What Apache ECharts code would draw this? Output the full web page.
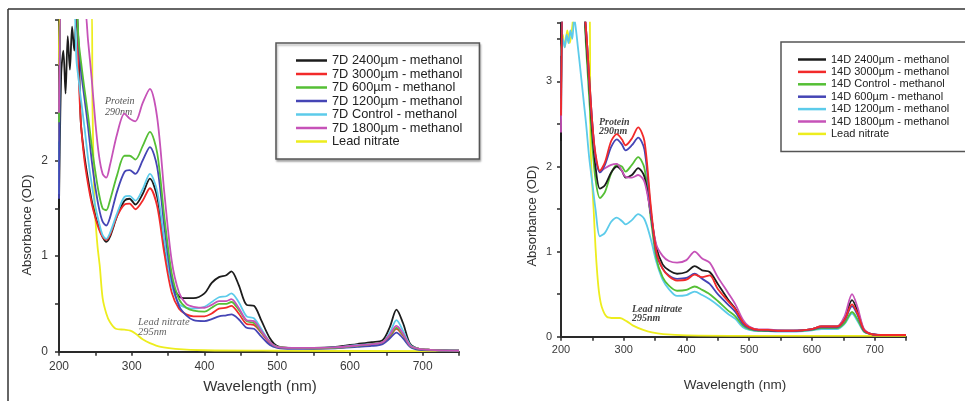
<!DOCTYPE html>
<html>
<head>
<meta charset="utf-8">
<script src="https://cdn.jsdelivr.net/npm/echarts@6/dist/echarts.min.js"></script>
<style>
html,body{margin:0;padding:0;background:#fff;}
#c{width:965px;height:401px;}
</style>
</head>
<body>
<div id="c"></div>
<script>
// ---------- LEFT PANEL (7D) ----------
const LW = [200,203,206,209,212,215,218,221,224,227,230,235,240,245,250,255,260,265,270,280,290,297,305,315,325,335,345,355,365,375,385,400,410,420,430,437,447,458,468,478,490,500,520,550,580,610,630,645,655,664,673,683,695,710,750];
const L_2400 = [1.5,2.9,3.15,2.7,3.3,2.95,3.4,3.15,3.5,3.2,2.4,2.05,1.8,1.58,1.42,1.3,1.2,1.15,1.2,1.42,1.58,1.6,1.54,1.65,1.81,1.62,1.1,0.72,0.58,0.56,0.56,0.61,0.72,0.78,0.8,0.84,0.7,0.49,0.48,0.33,0.14,0.06,0.04,0.04,0.05,0.08,0.1,0.12,0.26,0.44,0.3,0.08,0.03,0.02,0.01];
const L_3000 = [2.2,3.6,3.6,3.6,3.6,3.6,3.6,3.6,3.6,2.9,2.4,2.0,1.75,1.55,1.4,1.28,1.2,1.17,1.22,1.42,1.54,1.55,1.49,1.58,1.71,1.52,1.02,0.62,0.45,0.39,0.37,0.37,0.4,0.45,0.46,0.48,0.4,0.29,0.28,0.2,0.09,0.05,0.04,0.035,0.04,0.06,0.07,0.09,0.16,0.24,0.17,0.06,0.03,0.02,0.01];
const L_600 = [2.4,3.6,3.6,3.6,3.6,3.6,3.6,3.6,3.6,3.25,3.05,2.75,2.47,2.15,1.88,1.65,1.5,1.48,1.58,1.85,2.05,2.05,2.01,2.15,2.3,2.08,1.4,0.82,0.55,0.46,0.43,0.42,0.46,0.5,0.5,0.52,0.44,0.32,0.3,0.21,0.1,0.05,0.04,0.035,0.04,0.06,0.08,0.1,0.17,0.25,0.18,0.06,0.03,0.02,0.01];
const L_1200 = [1.6,3.6,3.6,3.6,3.6,3.6,3.6,3.6,3.6,3.2,2.95,2.65,2.35,2.0,1.72,1.5,1.36,1.32,1.4,1.68,1.88,1.9,1.86,2.0,2.14,1.93,1.3,0.75,0.48,0.38,0.33,0.32,0.34,0.37,0.38,0.39,0.34,0.25,0.24,0.16,0.07,0.04,0.03,0.03,0.035,0.05,0.06,0.08,0.14,0.2,0.14,0.05,0.02,0.015,0.01];
const L_CTRL = [1.65,3.6,3.6,3.6,3.6,3.6,3.6,3.6,3.05,2.85,2.65,2.35,2.02,1.75,1.52,1.35,1.22,1.18,1.24,1.45,1.62,1.63,1.58,1.7,1.86,1.68,1.15,0.7,0.5,0.46,0.45,0.47,0.52,0.57,0.58,0.61,0.52,0.37,0.35,0.24,0.1,0.05,0.04,0.04,0.045,0.07,0.08,0.1,0.2,0.33,0.22,0.07,0.03,0.02,0.01];
const L_1800 = [2.5,3.6,3.6,3.6,3.6,3.6,3.6,3.6,3.6,3.6,3.6,3.6,3.25,2.85,2.4,2.05,1.86,1.82,1.95,2.28,2.49,2.44,2.41,2.6,2.75,2.45,1.65,0.95,0.62,0.5,0.47,0.46,0.49,0.53,0.53,0.55,0.46,0.33,0.32,0.22,0.1,0.05,0.04,0.04,0.045,0.065,0.08,0.1,0.18,0.27,0.19,0.06,0.03,0.02,0.01];
const L_LEAD_W = [200,202,240,245,246,248,250,253,256,260,265,270,278,290,298,305,315,325,340,360,400,500,750];
const L_LEAD = [3.0,3.6,3.6,3.6,2.6,1.8,1.4,1.1,0.9,0.56,0.4,0.31,0.24,0.23,0.22,0.19,0.13,0.09,0.05,0.03,0.015,0.01,0.005];
const L_NAMES = ['7D 2400µm - methanol','7D 3000µm - methanol','7D 600µm - methanol','7D 1200µm - methanol','7D Control - methanol','7D 1800µm - methanol','Lead nitrate'];

// ---------- RIGHT PANEL (14D) ----------
const RW = [200,203,206,209,212,215,218,221,224,227,230,235,240,245,250,255,262,270,280,289,297,303,313,323,333,343,352,362,372,385,400,413,425,437,450,466,478,490,500,515,530,545,570,600,615,640,652,664,673,683,695,710,750];
const R_2400 = [2.3,3.9,3.9,3.9,3.9,3.9,3.9,3.9,3.9,3.9,3.9,3.9,3.5,2.95,2.4,2.0,1.74,1.78,1.93,2.0,1.95,1.87,1.9,1.98,1.88,1.45,1.05,0.85,0.78,0.74,0.76,0.83,0.78,0.76,0.62,0.44,0.33,0.17,0.11,0.08,0.075,0.07,0.07,0.09,0.12,0.12,0.22,0.43,0.3,0.08,0.03,0.02,0.02];
const R_3000 = [2.6,3.9,3.9,3.9,3.9,3.9,3.9,3.9,3.9,3.9,3.9,3.9,3.6,3.05,2.5,2.15,1.95,2.05,2.3,2.38,2.32,2.25,2.33,2.46,2.3,1.55,1.0,0.8,0.71,0.66,0.67,0.73,0.7,0.72,0.56,0.42,0.32,0.17,0.11,0.08,0.08,0.07,0.07,0.09,0.12,0.12,0.2,0.38,0.27,0.08,0.03,0.02,0.02];
const R_CTRL = [2.7,3.9,3.9,3.9,3.9,3.9,3.9,3.9,3.9,3.9,3.9,3.9,3.4,2.8,2.25,1.85,1.63,1.7,1.92,2.02,2.0,1.94,2.02,2.11,1.98,1.4,0.92,0.7,0.6,0.54,0.55,0.59,0.55,0.5,0.42,0.31,0.24,0.13,0.09,0.07,0.07,0.065,0.065,0.08,0.1,0.1,0.16,0.29,0.2,0.06,0.03,0.02,0.02];
const R_600 = [2.8,3.9,3.9,3.9,3.9,3.9,3.9,3.9,3.9,3.9,3.9,3.9,3.6,3.05,2.5,2.12,1.93,2.02,2.23,2.32,2.26,2.19,2.25,2.34,2.2,1.5,0.98,0.8,0.72,0.68,0.69,0.74,0.68,0.62,0.5,0.38,0.29,0.15,0.1,0.075,0.075,0.07,0.07,0.085,0.11,0.11,0.19,0.36,0.25,0.07,0.03,0.02,0.02];
const R_1200 = [3.3,3.5,3.4,3.55,3.45,3.6,3.5,3.75,3.6,3.4,3.2,2.85,2.5,2.1,1.8,1.5,1.18,1.22,1.35,1.4,1.36,1.32,1.37,1.44,1.38,1.15,0.88,0.67,0.56,0.48,0.49,0.53,0.49,0.44,0.37,0.27,0.21,0.11,0.08,0.065,0.065,0.06,0.06,0.075,0.09,0.09,0.15,0.27,0.18,0.06,0.03,0.02,0.02];
const R_1800 = [2.4,3.9,3.9,3.9,3.9,3.9,3.9,3.9,3.9,3.9,3.9,3.9,3.6,3.0,2.5,2.12,1.94,1.98,2.02,2.03,1.95,1.88,1.87,1.9,1.82,1.45,1.08,0.95,0.89,0.87,0.9,1.0,0.92,0.87,0.7,0.52,0.38,0.2,0.12,0.085,0.085,0.075,0.07,0.09,0.12,0.12,0.24,0.5,0.34,0.09,0.03,0.02,0.02];
const R_LEAD_W = [200,203,206,210,214,218,222,226,240,245,247,249,252,255,258,261,265,273,285,294,305,315,331,345,363,400,500,750];
const R_LEAD = [3.3,3.55,3.4,3.6,3.45,3.65,3.9,3.9,3.9,3.9,2.3,1.9,1.5,1.05,0.72,0.5,0.35,0.235,0.22,0.22,0.18,0.13,0.08,0.05,0.03,0.015,0.01,0.01];
const R_NAMES = ['14D 2400µm - methanol','14D 3000µm - methanol','14D Control - methanol','14D 600µm - methanol','14D 1200µm - methanol','14D 1800µm - methanol','Lead nitrate '];

const X_TICKS = [200,300,400,500,600,700];

const COLORS = {black:'#1c1c1c', red:'#f22a2a', green:'#55bf35', blue:'#4545b5', cyan:'#5ccbea', magenta:'#c652b8', yellow:'#eded1e'};

function pairs(w, v){ return w.map((x,i)=>[x, v[i]]); }

function mk(name, w, v, color, idx){
  return {
    name: name, type:'line', xAxisIndex: idx, yAxisIndex: idx,
    data: pairs(w, v), symbol:'none', smooth:0.3,
    lineStyle:{color: color, width:1.8}, itemStyle:{color: color},
    clip:true, animation:false
  };
}

const leftSeries = [
  mk(L_NAMES[6], L_LEAD_W, L_LEAD, COLORS.yellow, 0),
  mk(L_NAMES[0], LW, L_2400, COLORS.black, 0),
  mk(L_NAMES[1], LW, L_3000, COLORS.red, 0),
  mk(L_NAMES[4], LW, L_CTRL, COLORS.cyan, 0),
  mk(L_NAMES[3], LW, L_1200, COLORS.blue, 0),
  mk(L_NAMES[2], LW, L_600, COLORS.green, 0),
  mk(L_NAMES[5], LW, L_1800, COLORS.magenta, 0)
];
const rightSeries = [
  mk(R_NAMES[6], R_LEAD_W, R_LEAD, COLORS.yellow, 1),
  mk(R_NAMES[4], RW, R_1200, COLORS.cyan, 1),
  mk(R_NAMES[2], RW, R_CTRL, COLORS.green, 1),
  mk(R_NAMES[0], RW, R_2400, COLORS.black, 1),
  mk(R_NAMES[5], RW, R_1800, COLORS.magenta, 1),
  mk(R_NAMES[3], RW, R_600, COLORS.blue, 1),
  mk(R_NAMES[1], RW, R_3000, COLORS.red, 1)
];

function xAxis(idx, fs, margin){
  return {
    type:'value', gridIndex: idx, min:200, max:750, interval:50,
    axisLine:{show:true, onZero:false, lineStyle:{color:'#2a2a2a', width:2}},
    axisTick:{show:true, inside:false, length:4, lineStyle:{color:'#2a2a2a', width:1.5}},
    axisLabel:{fontSize:fs, color:'#3a3a3a', margin:margin, fontFamily:'Liberation Sans, Arial, sans-serif',
      formatter: v => X_TICKS.indexOf(v) >= 0 ? String(v) : ''},
    splitLine:{show:false}
  };
}
function yAxis(idx, max, maxLabel, fs, margin){
  return {
    type:'value', gridIndex: idx, min:0, max:max, interval:0.5,
    axisLine:{show:true, onZero:false, lineStyle:{color:'#2a2a2a', width:2}},
    axisTick:{show:true, inside:false, length:4, lineStyle:{color:'#2a2a2a', width:1.5}},
    axisLabel:{fontSize:fs, color:'#3a3a3a', margin:margin, fontFamily:'Liberation Sans, Arial, sans-serif',
      formatter: v => (Math.abs(v - Math.round(v)) < 1e-9 && v <= maxLabel) ? String(Math.round(v)) : ''},
    splitLine:{show:false}
  };
}

const serif = '"Liberation Serif", "DejaVu Serif", serif';
const sans = '"Liberation Sans", Arial, sans-serif';

const option = {
  backgroundColor:'#fff',
  animation:false,
  grid:[
    {left:59, top:20, width:400, height:331.7},
    {left:561, top:22.7, width:345, height:314}
  ],
  xAxis:[xAxis(0, 12, 9), xAxis(1, 11, 8)],
  yAxis:[yAxis(0, 3.47, 2, 12, 11), yAxis(1, 3.69, 3, 11, 9)],
  legend:[
    {
      data: L_NAMES, orient:'vertical', left:276, top:43,
      icon:'rect', itemWidth:31, itemHeight:2.5, itemGap:0.5,
      padding:[11,17,11,20],
      backgroundColor:'#fff', borderColor:'#555', borderWidth:1.5,
      shadowColor:'rgba(0,0,0,0.3)', shadowBlur:2, shadowOffsetX:1, shadowOffsetY:2,
      textStyle:{fontSize:12.8, lineHeight:12.5, color:'#222', fontFamily:sans},
      selectedMode:false
    },
    {
      data: R_NAMES, orient:'vertical', left:781, top:42,
      icon:'rect', itemWidth:28, itemHeight:2.5, itemGap:1.4,
      padding:[12,40,12,17],
      backgroundColor:'#fff', borderColor:'#555', borderWidth:1.5,
      formatter: n => n.trim(),
      textStyle:{fontSize:11, lineHeight:11, color:'#222', fontFamily:sans},
      selectedMode:false
    }
  ],
  graphic:[
    {type:'line', shape:{x1:8, y1:9, x2:965, y2:9}, style:{stroke:'#333', lineWidth:1.5}, silent:true},
    {type:'line', shape:{x1:8, y1:9, x2:8, y2:401}, style:{stroke:'#333', lineWidth:1.5}, silent:true},
    {type:'text', x:27, y:225, rotation:Math.PI/2, style:{text:'Absorbance (OD)', font:'13px '+sans, fill:'#333', align:'center', verticalAlign:'middle'}},
    {type:'text', x:532, y:216, rotation:Math.PI/2, style:{text:'Absorbance (OD)', font:'13px '+sans, fill:'#333', align:'center', verticalAlign:'middle'}},
    {type:'text', x:260, y:387, style:{text:'Wavelength (nm)', font:'15px '+sans, fill:'#333', align:'center', verticalAlign:'middle'}},
    {type:'text', x:735, y:385, style:{text:'Wavelength (nm)', font:'13.5px '+sans, fill:'#333', align:'center', verticalAlign:'middle'}},
    {type:'text', x:105, y:101, style:{text:'Protein', font:'italic 10px '+serif, fill:'#555', align:'left', verticalAlign:'middle'}},
    {type:'text', x:105, y:112, style:{text:'290nm', font:'italic 10px '+serif, fill:'#555', align:'left', verticalAlign:'middle'}},
    {type:'text', x:138, y:322, style:{text:'Lead nitrate', font:'italic 10.5px '+serif, fill:'#666', align:'left', verticalAlign:'middle'}},
    {type:'text', x:138, y:332, style:{text:'295nm', font:'italic 10.5px '+serif, fill:'#666', align:'left', verticalAlign:'middle'}},
    {type:'text', x:599, y:122, style:{text:'Protein', font:'italic bold 10px '+serif, fill:'#444', align:'left', verticalAlign:'middle'}},
    {type:'text', x:599, y:131, style:{text:'290nm', font:'italic bold 10px '+serif, fill:'#444', align:'left', verticalAlign:'middle'}},
    {type:'text', x:632, y:309, style:{text:'Lead nitrate', font:'italic bold 10px '+serif, fill:'#444', align:'left', verticalAlign:'middle'}},
    {type:'text', x:632, y:318, style:{text:'295nm', font:'italic bold 10px '+serif, fill:'#444', align:'left', verticalAlign:'middle'}}
  ],
  series: leftSeries.concat(rightSeries)
};

const chart = echarts.init(document.getElementById('c'), null, {renderer:'canvas'});
chart.setOption(option);
</script>
</body>
</html>
